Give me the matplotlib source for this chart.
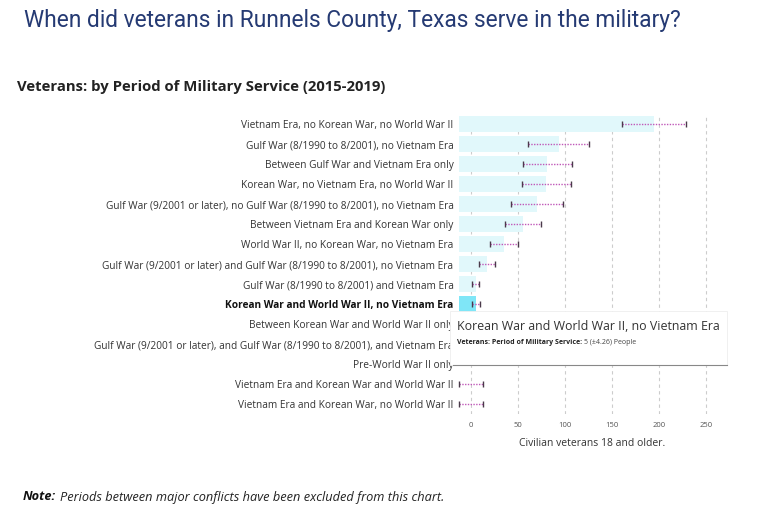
import matplotlib
matplotlib.use("Agg")
import matplotlib.pyplot as plt
from matplotlib.patches import Rectangle
import numpy as np

categories = [
    "Vietnam Era, no Korean War, no World War II",
    "Gulf War (8/1990 to 8/2001), no Vietnam Era",
    "Between Gulf War and Vietnam Era only",
    "Korean War, no Vietnam Era, no World War II",
    "Gulf War (9/2001 or later), no Gulf War (8/1990 to 8/2001), no Vietnam Era",
    "Between Vietnam Era and Korean War only",
    "World War II, no Korean War, no Vietnam Era",
    "Gulf War (9/2001 or later) and Gulf War (8/1990 to 8/2001), no Vietnam Era",
    "Gulf War (8/1990 to 8/2001) and Vietnam Era",
    "Korean War and World War II, no Vietnam Era",
    "Between Korean War and World War II only",
    "Gulf War (9/2001 or later), and Gulf War (8/1990 to 8/2001), and Vietnam Era",
    "Pre-World War II only",
    "Vietnam Era and Korean War and World War II",
    "Vietnam Era and Korean War, no World War II",
]
values = [194, 93, 81, 80, 70, 55, 35, 17, 5, 5, 0, 0, 0, 0, 0]
moes = [34, 32, 26, 26, 28, 19, 15, 9, 4, 4.26, 0, 0, 0, 13, 13]
highlight = "Korean War and World War II, no Vietnam Era"
xticks = [0, 50, 100, 150, 200, 250]

W, H = 768, 521
fig = plt.figure(figsize=(W / 100, H / 100), dpi=100)
fig.patch.set_facecolor("white")

def fx(px):
    return px / W

def fy(py):
    return 1 - py / H

ax_left, ax_right, ax_top, ax_bot = 459, 726, 114, 414
ax = fig.add_axes([fx(ax_left), fy(ax_bot), fx(ax_right - ax_left), (ax_bot - ax_top) / H])

xmin, xmax = -12.75, 271
n = len(categories)
y = np.arange(n)
vals = np.array(values, dtype=float)
errs = np.array(moes, dtype=float)

colors = ["#7fe6f7" if c == highlight else "#e1f8fb" for c in categories]
widths = np.where(vals > 0, vals - xmin, 0)
ax.barh(y, widths, left=xmin, height=0.82, color=colors, zorder=2)

m = errs > 0
eb = ax.errorbar(vals[m], y[m], xerr=errs[m], fmt="none", ecolor="#c058b8", elinewidth=1.0,
                 capsize=2.2, capthick=1.0, zorder=3)
for cl in eb[1]:
    cl.set_markeredgecolor("#4a3a4a")
    cl.set_clip_on(False)
for lc in eb[2]:
    lc.set_linestyle((0, (1, 1)))
    lc.set_clip_on(False)

ax.set_xlim(xmin, xmax)
ax.set_ylim(n - 0.5, -0.5)
ax.set_xticks(xticks)
ax.set_xticklabels([str(t) for t in xticks], fontsize=5.5, color="#555555", family="Open Sans")
ax.tick_params(axis="x", length=0, pad=6)
ax.set_yticks(y)
ax.set_yticklabels(categories, fontsize=7.25, color="#333333", family="Open Sans")
for lab in ax.get_yticklabels():
    if lab.get_text() == highlight:
        lab.set_fontweight("bold")
        lab.set_color("#111111")
ax.tick_params(axis="y", length=0, pad=4)
ax.grid(axis="x", linestyle=(0, (3, 3)), color="#cccccc", linewidth=0.8, zorder=0)
ax.set_axisbelow(True)
for s in ax.spines.values():
    s.set_visible(False)
ax.set_xlabel("Civilian veterans 18 and older.", fontsize=7.5, color="#333333",
              family="Open Sans", labelpad=6)

# Titles
fig.text(fx(24), fy(20), "When did veterans in Runnels County, Texas serve in the military?",
         fontsize=16.4, color="#253a73", family="Roboto", va="center", ha="left")
fig.text(fx(17), fy(87), "Veterans: by Period of Military Service (2015-2019)",
         fontsize=10.7, color="#222222", family="Open Sans", fontweight="bold", va="center", ha="left")

# Note
nt = fig.text(fx(23), fy(497), "Note:", fontsize=9.2, color="#111111", family="Open Sans",
              fontweight="bold", style="italic", va="center", ha="left")
fig.canvas.draw()
nb = nt.get_window_extent()
fig.text(nb.x1 / W + fx(4), fy(497), "Periods between major conflicts have been excluded from this chart.",
         fontsize=9.2, color="#222222", family="Open Sans", style="italic", va="center", ha="left")

# Tooltip
tx0, tx1, ty0, ty1 = 450, 727, 311, 365
box = Rectangle((fx(tx0), fy(ty1)), fx(tx1 - tx0), (ty1 - ty0) / H,
                transform=fig.transFigure, facecolor="white", edgecolor="#eeeeee",
                linewidth=0.6, zorder=10)
fig.add_artist(box)
fig.add_artist(plt.Line2D([fx(tx0 + 3), fx(tx1)], [fy(ty1), fy(ty1)], transform=fig.transFigure,
                          color="#888888", linewidth=0.8, zorder=11))
fig.text(fx(457), fy(327), "Korean War and World War II, no Vietnam Era", fontsize=8.95,
         color="#333333", family="Open Sans", va="center", ha="left", zorder=12)
t1 = fig.text(fx(457), fy(343), "Veterans: Period of Military Service:", fontsize=5,
              color="#222222", family="Open Sans", fontweight="bold", va="center", ha="left", zorder=12)
fig.canvas.draw()
bb = t1.get_window_extent()
fig.text(bb.x1 / W + fx(2), fy(343), "5 (\u00b14.26) People", fontsize=5, color="#444444",
         family="Open Sans", va="center", ha="left", zorder=12)

fig.savefig("out.png", dpi=100, facecolor="white")
